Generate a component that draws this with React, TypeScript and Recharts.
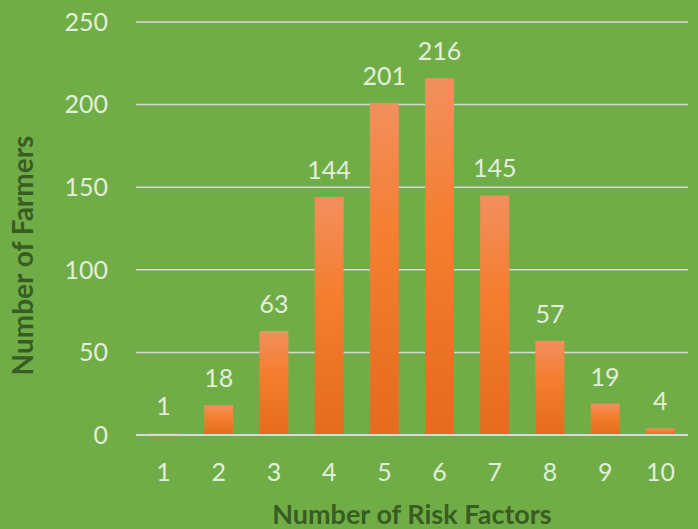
import { BarChart, Bar, XAxis, YAxis, CartesianGrid, LabelList } from "recharts";

// number of risk factors per farmer
const riskFactors = ["1", "2", "3", "4", "5", "6", "7", "8", "9", "10"];
const farmers = [1, 18, 63, 144, 201, 216, 145, 57, 19, 4];
const yTicks = [0, 50, 100, 150, 200, 250];

const BG = "#70AD47";
const TEXT_LIGHT = "#E2EFDA";
const TITLE = "#385D22";
const GRID = "#D9D9D9";

export default function App() {
  const data = riskFactors.map((r, i) => ({ risk: r, farmers: farmers[i] }));

  return (
    <div style={{ position: "absolute", left: 0, top: 0, width: 698, height: 529, background: BG }}>
      <BarChart
        width={698}
        height={529}
        data={data}
        margin={{ top: 22, right: 10, left: 0, bottom: 0 }}
        style={{ fontFamily: "Lato, sans-serif" }}
      >
        <defs>
          <linearGradient id="barFill" x1="0" y1="0" x2="0" y2="1">
            <stop offset="0%" stopColor="#F28F5E" />
            <stop offset="40%" stopColor="#F57E30" />
            <stop offset="100%" stopColor="#E56B1E" />
          </linearGradient>
        </defs>
        <CartesianGrid vertical={false} stroke={GRID} strokeWidth={1.5} />
        <XAxis
          dataKey="risk"
          height={94}
          tickSize={0}
          tickMargin={28}
          axisLine={{ stroke: GRID, strokeWidth: 2 }}
          tick={{ fill: TEXT_LIGHT, fontSize: 25 }}
          label={{
            value: "Number of Risk Factors",
            position: "insideBottom",
            offset: 5,
            fill: TITLE,
            fontSize: 27,
            fontWeight: 700,
          }}
        />
        <YAxis
          width={136}
          domain={[0, 250]}
          ticks={yTicks}
          tickSize={0}
          tickMargin={28}
          axisLine={false}
          tick={{ fill: TEXT_LIGHT, fontSize: 25 }}
          label={{
            value: "Number of Farmers",
            angle: -90,
            position: "center",
            dx: -45,
            dy: 27,
            fill: TITLE,
            fontSize: 28,
            fontWeight: 700,
          }}
        />
        <Bar dataKey="farmers" fill="url(#barFill)" barSize={29} isAnimationActive={false}>
          <LabelList dataKey="farmers" position="top" offset={18} fill={TEXT_LIGHT} fontSize={25} />
        </Bar>
      </BarChart>
    </div>
  );
}
